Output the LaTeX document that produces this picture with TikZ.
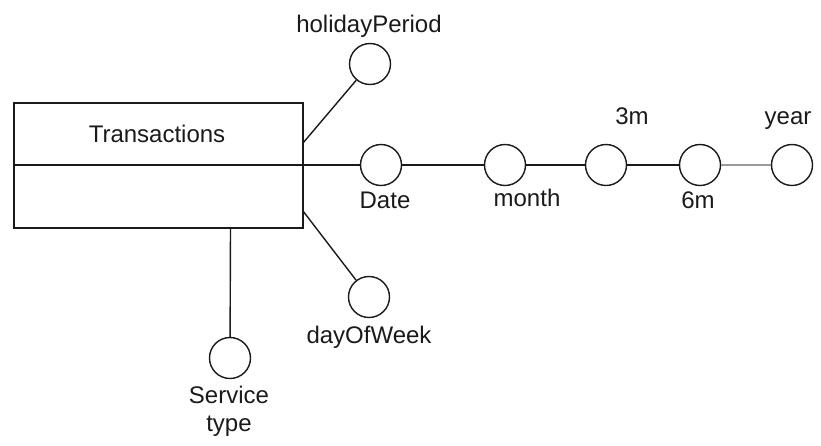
\documentclass[tikz,border=0pt]{standalone}
\usepackage{fontspec}
\setmainfont{Liberation Sans}
\definecolor{ink}{HTML}{1A1A1A}
\definecolor{softline}{HTML}{9A9A9A}
\begin{document}
\begin{tikzpicture}[x=1pt,y=-1pt,
  every node/.style={font=\fontsize{24}{28}\selectfont, text=ink},
  attr/.style={circle, draw=ink, line width=1.4pt, minimum size=41pt, inner sep=0pt, fill=white},
  lbl/.style={anchor=base, inner sep=0pt},
  link/.style={draw=ink, line width=1.4pt},
  entity/.style={draw=ink, line width=1.6pt, minimum width=289pt, minimum height=125pt, inner sep=0pt}
]
\useasboundingbox (0,0) rectangle (821,445);

% entity box with its divider
\node[entity] (tr) at (158.5,165.5) {};
\coordinate (divL) at (14,165);
\coordinate (divR) at (303,165);
\draw[link] (divL) -- (divR);
\node[lbl] (trname) at (157,142) {Transactions};

% attribute circles
\node[attr] (hol) at (370,64) {};
\node[attr] (date) at (381,165) {};
\node[attr] (month) at (505,165) {};
\node[attr] (q3) at (606,165) {};
\node[attr] (h6) at (700,165) {};
\node[attr] (yr) at (792,165) {};
\node[attr] (dow) at (369,297) {};
\node[attr] (svc) at (230,358) {};

% connectors
\coordinate (tHol) at (303,143);
\coordinate (tDow) at (303,211);
\coordinate (tSvc) at (230.5,228);
\draw[link] (tHol) -- (hol);
\draw[link] (divR) -- (date);
\draw[link] (tDow) -- (dow);
\draw[link] (tSvc) -- (svc);
\draw[link] (date) -- (month);
\draw[link] (month) -- (q3);
\draw[link] (q3) -- (h6);
\draw[draw=softline, line width=1.4pt] (h6) -- (yr);

% labels
\node[lbl] (lhol) at (369,32) {holidayPeriod};
\node[lbl] (ldate) at (385,208) {Date};
\node[lbl] (lmonth) at (527,206) {month};
\node[lbl] (lq3) at (632,124) {3m};
\node[lbl] (lh6) at (698,208) {6m};
\node[lbl] (lyr) at (788,124) {year};
\node[lbl] (ldow) at (369,343) {dayOfWeek};
\node[lbl] (lsvc1) at (229,403) {Service};
\node[lbl] (lsvc2) at (229,431) {type};
\end{tikzpicture}
\end{document}
